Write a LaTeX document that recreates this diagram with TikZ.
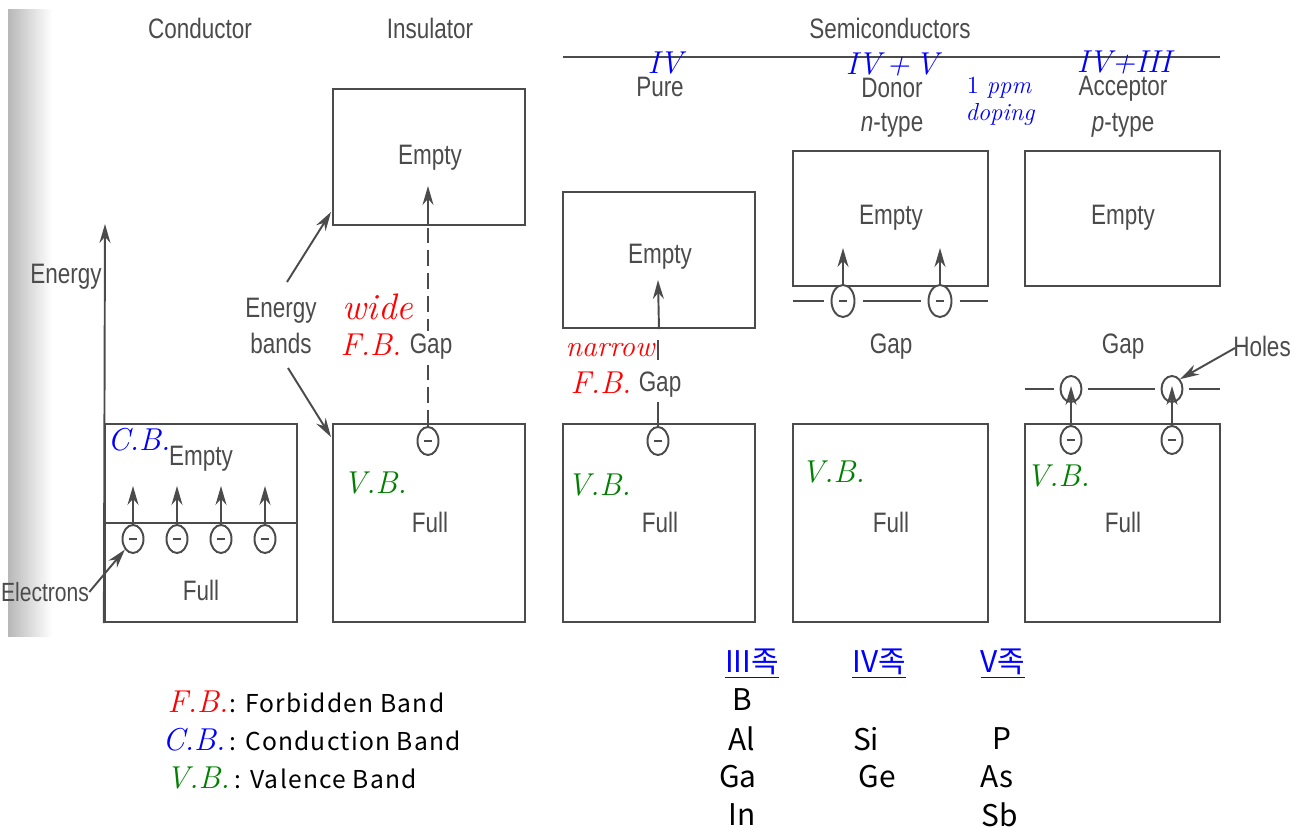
\documentclass[tikz,border=0pt]{standalone}
\usepackage{fontspec}
\usetikzlibrary{arrows.meta,shapes.geometric,calc}
\newfontfamily\cond[FakeStretch=0.8]{Liberation Sans}
\newfontfamily\kr{Noto Sans CJK KR}
\newfontfamily\krl[LetterSpace=5]{Noto Sans CJK KR}
\definecolor{ink}{RGB}{75,75,75}
\definecolor{vbgreen}{RGB}{0,128,0}
\newcommand\edash{\rule[-0.5pt]{5pt}{1.1pt}}
\tikzset{
 band/.style={draw=ink, line width=1.3pt, inner sep=0pt, minimum width=3.84cm},
 fullband/.style={band, minimum height=3.96cm},
 emptyband/.style={band, minimum height=2.72cm},
 lab/.style={text=ink, font=\cond\fontsize{16}{18}\selectfont, inner sep=0pt, align=center},
 elec/.style={ellipse, draw=ink, text=ink, line width=1.1pt, fill=white, minimum width=0.42cm, minimum height=0.56cm, inner sep=0pt},
 delec/.style={elec, minimum width=0.46cm, minimum height=0.64cm},
 hole/.style={ellipse, draw=ink, line width=1.1pt, minimum width=0.42cm, minimum height=0.52cm, inner sep=0pt},
 arr/.style={draw=ink, line width=1.1pt, -{Stealth[length=0.38cm,width=0.22cm]}},
 ln/.style={draw=ink, line width=1.1pt},
 ma/.style={inner sep=0pt, font=\itshape\fontsize{18}{21}\selectfont},
 leg/.style={inner sep=0pt, anchor=west, font=\krl\fontsize{14}{16}\selectfont},
 tab/.style={inner sep=0pt, font=\kr\fontsize{17}{20}\selectfont},
 hdr/.style={inner sep=0pt, text=blue, font=\kr\fontsize{17}{20}\selectfont}
}
\begin{document}
\begin{tikzpicture}[x=0.02cm,y=-0.02cm]
\useasboundingbox (0,0) rectangle (1302,828);
\shade[left color=black!28, right color=white] (8,10) rectangle (52,636);

% titles
\node[lab] (tcond) at (200,28) {Conductor};
\node[lab] (tins) at (430,28) {Insulator};
\node[lab] (tsemi) at (890,28) {Semiconductors};
\coordinate (hl1) at (563,57);
\coordinate (hl2) at (1220,57);
\draw[ln] (hl1) -- (hl2);

% ---------- conductor ----------
\node[fullband] (cb) at (201,523) {};
\coordinate (etip) at (105,224);
\draw[arr] (cb.south west) -- (etip);
\node[lab] (energy) at (66,277) {Energy};
\coordinate (cl1) at (105,523);
\coordinate (cl2) at (297,523);
\draw[band] (cl1) -- (cl2);
\node[lab] (cempty) at (201,459) {Empty};
\node[lab] (cfull) at (201,590) {Full};
\node[ma, text=blue] (cbl) at (139,440) {C.B.};
\foreach \i/\x in {1/133,2/177,3/221,4/265}{
  \node[elec] (c\i) at (\x,539) {\edash};
  \coordinate (ct\i) at (\x,486);
  \draw[arr] (c\i.north) -- (ct\i);
}
\node[lab, font=\cond\fontsize{15}{17}\selectfont] (elab) at (45,592) {Electrons};
\draw[arr] (elab.east) -- (c1.south west);

% ---------- insulator ----------
\node[emptyband] (ie) at (429,157) {};
\node[fullband] (if) at (429,523) {};
\node[lab] (iempty) at (430,158) {Empty};
\node[lab] (ifull) at (430,522) {Full};
\node[ma, text=vbgreen] (ivb) at (375,483) {V.B.};
\node[elec] (i1) at (428,441) {\edash};
\coordinate (itip) at (428,186);
\coordinate (iin) at (428,226);
\draw[ln, dash pattern=on 9pt off 4pt] (i1.north) -- (iin);
\draw[arr] (iin) -- (itip);
\node[lab, fill=white, inner sep=2pt] (igap) at (431,347) {Gap};
\node[ma, text=red, font=\itshape\fontsize{21}{24}\selectfont] (iwide) at (378,307) {wide};
\node[ma, text=red] (ifb) at (371,345) {F.B.};
\node[lab, align=center] (eb) at (281,326) {Energy\\[2pt]bands};
\coordinate (eb1) at (287,282);
\coordinate (eb1t) at (331,212);
\coordinate (eb2) at (288,368);
\coordinate (eb2t) at (331,437);
\draw[arr] (eb1) -- (eb1t);
\draw[arr] (eb2) -- (eb2t);

% ---------- pure ----------
\node[emptyband] (pe) at (659,260) {};
\node[fullband] (pf) at (659,523) {};
\node[lab] (pempty) at (660,257) {Empty};
\node[lab] (pfull) at (660,522) {Full};
\node[lab] (pure) at (660,87) {Pure};
\node[ma, text=blue] (piv) at (665,63) {IV};
\coordinate (ptip) at (658,280);
\draw[arr] (pe.south) -- (ptip);
\coordinate (pt1) at (658,340);
\coordinate (pt2) at (658,360);
\draw[ln] (pt1) -- (pt2);
\node[ma, text=red, font=\itshape\fontsize{17}{20}\selectfont] (pnar) at (610,350) {narrow};
\node[ma, text=red] (pfb) at (601,383) {F.B.};
\node[lab] (pgap) at (660,385) {Gap};
\node[elec] (p1) at (658,441) {\edash};
\coordinate (pt3) at (658,402);
\draw[ln] (pt3) -- (p1.north);
\node[ma, text=vbgreen] (pvb) at (599,485) {V.B.};

% ---------- donor ----------
\node[band, minimum width=3.9cm, minimum height=2.7cm] (de) at (890.5,218.5) {};
\node[band, minimum width=3.9cm, minimum height=3.96cm] (df) at (890.5,523) {};
\node[lab] (dempty) at (891,218) {Empty};
\node[lab] (dfull) at (891,522) {Full};
\node[lab] (dgap) at (891,347) {Gap};
\node[lab] (donor) at (892,88) {Donor};
\node[lab] (ntype) at (892,125) {{\itshape n}-type};
\node[ma, text=blue] (div) at (892,65) {IV\,+\,V};
\node[ma, text=blue, font=\itshape\fontsize{14}{16}\selectfont] (ppm) at (999,88) {\upshape 1 \itshape ppm};
\node[ma, text=blue, font=\itshape\fontsize{14}{16}\selectfont] (dop) at (1000,114) {doping};
\node[ma, text=vbgreen] (dvb) at (833,472) {V.B.};
\node[delec] (d1) at (843,301) {\edash};
\node[delec] (d2) at (940,301) {\edash};
\coordinate (dl1) at (793,301);
\coordinate (dl2) at (988,301);
\draw[ln, shorten >=4pt] (dl1) -- (d1.west);
\draw[ln, shorten <=4pt, shorten >=4pt] (d1.east) -- (d2.west);
\draw[ln, shorten <=4pt] (d2.east) -- (dl2);
\coordinate (dt1) at (843,248);
\coordinate (dt2) at (940,248);
\draw[arr] (d1.north) -- (dt1);
\draw[arr] (d2.north) -- (dt2);

% ---------- acceptor ----------
\node[band, minimum width=3.9cm, minimum height=2.7cm] (ae) at (1122.5,218.5) {};
\node[band, minimum width=3.9cm, minimum height=3.96cm] (af) at (1122.5,523) {};
\node[lab] (aempty) at (1123,218) {Empty};
\node[lab] (afull) at (1123,522) {Full};
\node[lab] (agap) at (1123,347) {Gap};
\node[lab] (acc) at (1123,89) {Acceptor};
\node[lab] (ptype) at (1123,125) {{\itshape p}-type};
\node[ma, text=blue] (aiv) at (1124,63) {IV+III};
\node[ma, text=vbgreen] (avb) at (1058,476) {V.B.};
\node[hole] (h1) at (1071,389) {};
\node[hole] (h2) at (1172,389) {};
\coordinate (al1) at (1025,389);
\coordinate (al2) at (1220,389);
\draw[ln, shorten >=3pt] (al1) -- (h1.west);
\draw[ln, shorten <=3pt, shorten >=3pt] (h1.east) -- (h2.west);
\draw[ln, shorten <=3pt] (h2.east) -- (al2);
\node[elec] (a1) at (1071,440) {\edash};
\node[elec] (a2) at (1172,440) {\edash};
\coordinate (at1) at (1071,386);
\coordinate (at2) at (1172,386);
\draw[arr] (a1.north) -- (at1);
\draw[arr] (a2.north) -- (at2);
\node[lab] (holes) at (1262,346) {Holes};
\coordinate (hs) at (1235,348);
\draw[arr] (hs) -- (h2.north east);

% ---------- legend ----------
\node[ma, text=red] (lfb) at (198,702) {F.B.};
\node[leg] (lfbt) at (229,703) {: Forbidden Band};
\node[ma, text=blue] (lcb) at (194,740) {C.B.};
\node[leg] (lcbt) at (229,741) {: Conduction Band};
\node[ma, text=vbgreen] (lvb) at (198,778) {V.B.};
\node[leg] (lvbt) at (234,779) {: Valence Band};

% ---------- table ----------
\node[hdr] (h3) at (752,664) {\underline{III족}};
\node[hdr] (h4) at (879,664) {\underline{IV족}};
\node[hdr] (h5) at (1003,664) {\underline{V족}};
\node[tab] (tB) at (742,700) {B};
\node[tab] (tAl) at (742,739) {Al};
\node[tab] (tSi) at (866,739) {Si};
\node[tab] (tP) at (1002,739) {P};
\node[tab] (tGa) at (738,777) {Ga};
\node[tab] (tGe) at (877,777) {Ge};
\node[tab] (tAs) at (997,777) {As};
\node[tab] (tIn) at (742,815) {In};
\node[tab] (tSb) at (1000,815) {Sb};
\end{tikzpicture}
\end{document}
